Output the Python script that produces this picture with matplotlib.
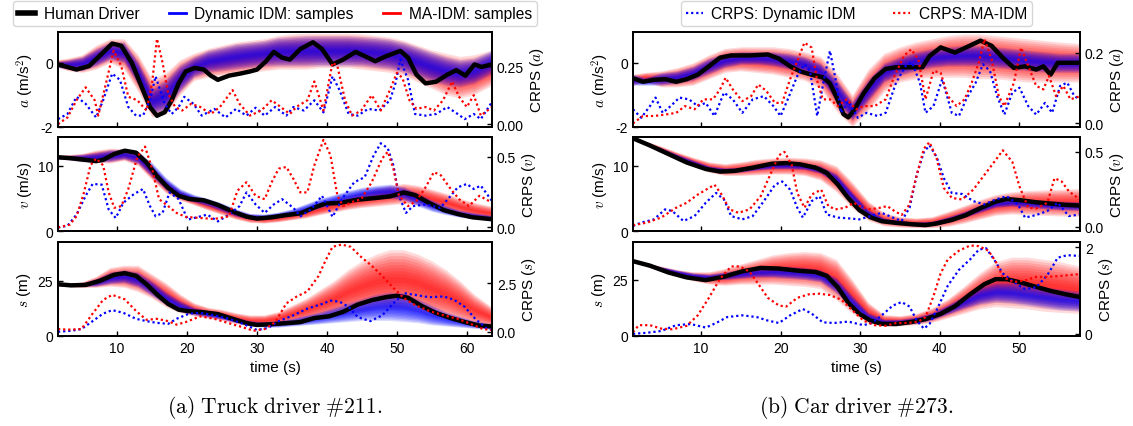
import numpy as np
import matplotlib.pyplot as plt
from matplotlib.lines import Line2D

plt.rcParams['font.family'] = ['Liberation Sans', 'DejaVu Sans']
plt.rcParams['mathtext.fontset'] = 'cm'
plt.rcParams['axes.unicode_minus'] = False

# ---------------- Truck driver #211 ----------------
# human driver (time, value)
TRUCK_A_HUMAN = [(1.55, -0.05), (4.2, -0.21), (6.0, -0.1), (8.0, 0.32), (9.3, 0.6), (10.6, 0.53), (12.1, 0.0),
                 (13.7, -0.85), (14.7, -1.38), (15.7, -1.65), (16.8, -1.54), (17.8, -1.17), (18.8, -0.64),
                 (19.8, -0.27), (21.1, -0.16), (22.4, -0.21), (23.4, -0.4), (24.4, -0.53), (26.0, -0.4),
                 (27.5, -0.34), (29.0, -0.27), (30.0, -0.21), (31.3, 0.05), (32.4, 0.34), (33.6, 0.16),
                 (34.7, 0.1), (36.2, 0.43), (38.0, 0.64), (39.3, 0.43), (40.8, -0.05), (42.3, 0.1), (44.1, 0.34),
                 (45.4, 0.21), (46.9, 0.05), (48.5, 0.21), (50.5, 0.37), (51.6, 0.16), (52.8, -0.37),
                 (54.1, -0.64), (55.6, -0.59), (57.2, -0.37), (58.5, -0.23), (59.8, -0.4), (61.1, -0.05),
                 (62.1, -0.13), (63.6, -0.05)]
TRUCK_V_HUMAN = [(1.55, 11.3), (3.4, 11.15), (5.5, 10.9), (7.0, 10.7), (8.0, 10.9), (9.6, 11.8), (11.1, 12.3),
                 (12.7, 12.0), (14.2, 10.5), (15.7, 8.4), (17.3, 6.6), (18.8, 5.4), (20.3, 4.9), (22.4, 4.7),
                 (24.4, 4.0), (26.5, 3.0), (28.5, 2.2), (30.0, 1.9), (32.1, 2.1), (34.2, 2.45), (36.2, 2.7),
                 (38.2, 3.6), (39.8, 4.2), (41.8, 4.3), (44.4, 4.8), (46.9, 5.05), (49.0, 5.3), (51.0, 5.9),
                 (52.6, 5.5), (54.6, 4.3), (56.7, 3.2), (58.7, 2.6), (60.8, 2.1), (63.6, 1.8)]
TRUCK_S_HUMAN = [(1.55, 23.4), (3.4, 22.9), (5.5, 23.1), (7.5, 24.9), (9.6, 27.7), (11.1, 28.4), (12.7, 27.2),
                 (14.2, 23.4), (15.7, 18.8), (17.3, 14.5), (18.8, 11.9), (20.3, 11.2), (22.4, 10.7), (24.4, 9.9),
                 (26.5, 7.8), (28.5, 5.8), (30.0, 5.0), (32.1, 5.35), (34.2, 5.8), (36.2, 6.3), (38.2, 8.1),
                 (40.3, 8.9), (42.3, 10.9), (44.4, 14.2), (46.4, 16.2), (48.5, 17.6), (50.0, 18.2), (51.6, 17.3),
                 (53.6, 13.5), (55.6, 10.4), (57.7, 8.1), (59.7, 6.3), (61.8, 4.7), (63.6, 4.3)]

# CRPS (time, value)
TRUCK_A_CRPS_DIDM = [(1.55, 0.022), (2.9, 0.044), (4.2, 0.118), (5.5, 0.088), (7.0, 0.029), (8.0, 0.103),
                     (9.3, 0.218), (10.4, 0.191), (11.6, 0.074), (12.7, 0.037), (13.7, 0.037), (14.7, 0.103),
                     (15.5, 0.206), (16.8, 0.088), (17.8, 0.044), (18.8, 0.074), (19.6, 0.118), (20.9, 0.088),
                     (22.1, 0.037), (23.9, 0.066), (25.5, 0.029), (27.0, 0.066), (28.5, 0.037), (29.8, 0.071),
                     (31.1, 0.037), (32.6, 0.074), (34.2, 0.037), (35.2, 0.074), (36.7, 0.059), (38.2, 0.103),
                     (39.5, 0.051), (40.8, 0.206), (41.8, 0.147), (43.1, 0.044), (44.4, 0.037), (45.9, 0.066),
                     (47.5, 0.059), (49.0, 0.103), (49.8, 0.176), (50.5, 0.279), (51.6, 0.191), (52.6, 0.044),
                     (54.1, 0.037), (55.6, 0.044), (57.2, 0.074), (58.7, 0.044), (59.7, 0.022), (61.0, 0.044),
                     (62.0, 0.022), (63.6, 0.096)]
TRUCK_A_CRPS_MAIDM = [(1.55, 0.0), (2.9, 0.029), (4.2, 0.103), (5.5, 0.159), (6.8, 0.103), (7.3, 0.037),
                      (8.3, 0.162), (9.5, 0.316), (10.6, 0.25), (11.6, 0.118), (12.9, 0.103), (14.2, 0.059),
                      (15.0, 0.176), (15.7, 0.368), (16.5, 0.265), (17.3, 0.132), (18.3, 0.074), (19.3, 0.059),
                      (20.6, 0.088), (21.9, 0.074), (23.4, 0.044), (24.7, 0.074), (26.5, 0.147), (27.5, 0.088),
                      (29.0, 0.037), (30.6, 0.059), (32.1, 0.103), (33.4, 0.074), (34.7, 0.044), (35.7, 0.076),
                      (37.2, 0.103), (38.2, 0.184), (39.5, 0.059), (40.8, 0.265), (41.5, 0.25), (42.6, 0.103),
                      (43.6, 0.037), (44.9, 0.059), (46.4, 0.125), (47.7, 0.059), (49.0, 0.147), (50.0, 0.221),
                      (50.8, 0.199), (51.8, 0.103), (52.8, 0.066), (54.1, 0.074), (55.3, 0.059), (56.6, 0.103),
                      (57.9, 0.184), (58.9, 0.118), (60.0, 0.074), (61.0, 0.125), (62.0, 0.037), (63.6, 0.074)]
TRUCK_V_CRPS_DIDM = [(1.55, 0.0), (2.9, 0.012), (4.2, 0.091), (5.5, 0.224), (6.5, 0.308), (7.8, 0.303),
                     (8.8, 0.127), (9.8, 0.067), (10.9, 0.175), (12.4, 0.236), (13.7, 0.272), (14.7, 0.151),
                     (15.5, 0.079), (16.5, 0.103), (17.5, 0.248), (18.8, 0.2), (20.1, 0.055), (21.4, 0.072),
                     (22.9, 0.091), (24.4, 0.043), (26.0, 0.091), (27.5, 0.151), (28.5, 0.248), (29.8, 0.163),
                     (31.1, 0.103), (32.4, 0.163), (33.6, 0.2), (35.2, 0.139), (36.2, 0.079), (37.7, 0.127),
                     (39.3, 0.224), (40.8, 0.075), (42.3, 0.212), (43.9, 0.32), (45.4, 0.356), (46.7, 0.512),
                     (47.7, 0.596), (48.7, 0.56), (49.5, 0.44), (50.3, 0.224), (51.3, 0.103), (52.3, 0.151),
                     (54.1, 0.163), (56.2, 0.139), (57.7, 0.224), (58.7, 0.284), (60.0, 0.308), (61.0, 0.272),
                     (62.0, 0.296), (63.6, 0.188)]
TRUCK_V_CRPS_MAIDM = [(1.55, 0.0), (3.2, 0.019), (4.2, 0.079), (5.2, 0.236), (6.2, 0.44), (7.0, 0.488),
                      (8.0, 0.44), (8.8, 0.248), (9.6, 0.139), (10.6, 0.151), (11.6, 0.272), (12.9, 0.5),
                      (14.0, 0.572), (15.0, 0.416), (16.0, 0.2), (17.3, 0.151), (18.5, 0.103), (19.8, 0.075),
                      (21.9, 0.067), (23.9, 0.06), (26.0, 0.079), (27.2, 0.26), (28.5, 0.32), (29.8, 0.224),
                      (31.1, 0.2), (32.1, 0.32), (33.1, 0.416), (34.2, 0.428), (35.2, 0.344), (36.2, 0.248),
                      (37.2, 0.248), (38.2, 0.44), (39.5, 0.62), (40.5, 0.512), (41.5, 0.224), (42.3, 0.151),
                      (43.6, 0.18), (44.9, 0.2), (46.4, 0.32), (47.9, 0.488), (48.7, 0.536), (49.5, 0.416),
                      (50.3, 0.224), (51.6, 0.151), (52.8, 0.188), (54.1, 0.284), (55.3, 0.392), (56.3, 0.368),
                      (57.7, 0.272), (58.9, 0.2), (60.3, 0.151), (61.8, 0.224), (63.6, 0.176)]
TRUCK_S_CRPS_DIDM = [(1.55, 0.0), (3.4, 0.05), (4.9, 0.14), (6.5, 0.55), (8.0, 0.94), (9.3, 1.12), (10.9, 0.98),
                     (12.7, 0.67), (14.2, 0.55), (15.7, 0.46), (17.3, 0.41), (18.5, 0.67), (20.3, 0.94),
                     (21.9, 0.98), (23.9, 0.85), (26.0, 0.67), (28.0, 0.41), (30.0, 0.09), (31.6, 0.2),
                     (33.1, 0.55), (35.2, 0.85), (37.2, 1.2), (39.3, 1.44), (40.5, 1.61), (41.8, 1.56),
                     (43.1, 1.29), (44.4, 0.76), (46.2, 0.55), (47.9, 0.85), (49.5, 1.47), (51.0, 2.0),
                     (52.6, 1.91), (54.6, 1.79), (56.7, 1.83), (58.2, 1.65), (59.7, 1.29), (61.2, 0.67),
                     (62.8, 0.18), (63.6, 0.1)]
TRUCK_S_CRPS_MAIDM = [(1.55, 0.14), (2.9, 0.11), (4.9, 0.14), (6.5, 0.94), (8.0, 1.65), (9.3, 1.91), (11.1, 1.68),
                      (12.7, 1.08), (14.2, 0.62), (15.7, 0.67), (17.3, 0.55), (18.5, 0.37), (19.8, 0.5),
                      (21.9, 0.8), (23.9, 0.67), (26.0, 0.44), (28.0, 0.23), (29.5, 0.05), (31.1, 0.14),
                      (32.6, 0.5), (34.2, 1.47), (35.7, 1.83), (37.2, 2.09), (38.8, 2.89), (39.8, 3.69),
                      (40.8, 4.4), (42.1, 4.52), (43.4, 4.4), (44.9, 3.87), (46.4, 3.42), (47.9, 2.89),
                      (49.5, 2.27), (51.0, 1.74), (52.6, 1.38), (54.6, 1.08), (56.7, 0.85), (58.7, 0.67),
                      (60.8, 0.37), (62.3, 0.14), (63.6, 0.09)]

# sample envelopes
TRUCK_BAND_T = [1.55, 3, 5, 7, 9, 11, 13, 15, 17, 19, 21, 23, 25, 27, 29, 31, 33, 35, 37, 39, 41, 43, 45, 47,
                49, 51, 53, 55, 57, 59, 61, 63.6]
TRUCK_A_DIDM_LO = [-0.15, -0.2, -0.25, -0.1, 0.1, 0.0, -0.7, -1.6, -1.5, -0.9, -0.45, -0.3, -0.25, -0.2, -0.15,
                   -0.1, -0.1, -0.1, -0.1, -0.1, -0.1, -0.1, -0.1, -0.15, -0.2, -0.3, -0.45, -0.6, -0.7, -0.75,
                   -0.65, -0.35]
TRUCK_A_DIDM_HI = [0.05, 0.1, 0.2, 0.45, 0.65, 0.65, 0.05, -0.8, -0.5, -0.05, 0.2, 0.4, 0.5, 0.6, 0.65, 0.7,
                   0.8, 0.82, 0.85, 0.85, 0.85, 0.85, 0.82, 0.8, 0.75, 0.65, 0.5, 0.35, 0.2, 0.1, 0.15, 0.4]
TRUCK_A_MAIDM_LO = [-0.15, -0.25, -0.3, -0.2, 0.0, -0.2, -0.9, -1.7, -1.6, -1.0, -0.55, -0.45, -0.4, -0.35, -0.3,
                    -0.25, -0.2, -0.2, -0.2, -0.15, -0.15, -0.15, -0.2, -0.25, -0.3, -0.4, -0.6, -0.8, -1.0, -1.1,
                    -1.0, -0.7]
TRUCK_A_MAIDM_HI = [0.1, 0.15, 0.25, 0.55, 0.75, 0.75, 0.25, -0.5, -0.3, 0.1, 0.3, 0.45, 0.55, 0.65, 0.7, 0.75,
                    0.85, 0.9, 0.92, 0.92, 0.92, 0.92, 0.9, 0.85, 0.8, 0.7, 0.55, 0.4, 0.3, 0.2, 0.25, 0.4]
TRUCK_V_DIDM_LO = [11.0, 10.9, 10.6, 10.5, 10.6, 11.0, 10.3, 8.2, 6.2, 5.0, 4.4, 3.8, 3.0, 2.2, 1.8, 1.8, 2.0,
                   2.3, 2.8, 3.5, 4.0, 4.4, 4.8, 5.0, 5.0, 4.7, 3.8, 3.0, 2.5, 2.1, 1.9, 1.7]
TRUCK_V_DIDM_HI = [11.6, 11.6, 11.8, 12.1, 12.5, 12.5, 12.2, 10.5, 8.2, 6.5, 5.6, 5.0, 4.3, 3.4, 2.7, 2.6, 2.9,
                   3.4, 4.2, 5.0, 5.6, 6.2, 6.7, 7.0, 7.2, 6.8, 5.8, 4.8, 3.9, 3.2, 2.8, 2.4]
TRUCK_V_MAIDM_LO = [11.0, 10.9, 10.6, 10.5, 10.4, 10.8, 10.0, 7.8, 5.8, 4.7, 4.0, 3.2, 2.5, 1.8, 1.3, 1.2, 1.4,
                    1.7, 2.0, 2.5, 2.9, 3.3, 3.6, 3.8, 4.0, 4.2, 4.0, 3.5, 3.0, 2.5, 2.0, 1.6]
TRUCK_V_MAIDM_HI = [11.6, 11.7, 11.9, 12.4, 12.7, 12.6, 12.3, 10.0, 7.8, 6.2, 5.3, 4.6, 4.0, 3.2, 2.6, 2.4, 2.6,
                    3.0, 3.6, 4.3, 4.9, 5.4, 6.0, 6.6, 7.0, 7.3, 7.0, 6.4, 5.8, 5.0, 4.4, 3.8]
TRUCK_S_DIDM_LO = [22.8, 22.5, 22.3, 22.5, 23.5, 24, 22, 18, 14, 11, 9.5, 8.5, 7.5, 6, 4.5, 4, 4, 4.5, 5, 5.5, 6,
                   6.5, 7, 7, 7, 6.5, 6, 5, 4.5, 4, 3.5, 3]
TRUCK_S_DIDM_HI = [23.8, 23.5, 24, 26, 29, 30, 29, 25, 20, 16, 13, 11.5, 10, 8.5, 7, 6.5, 7, 8, 9.5, 11, 13, 15,
                   17, 19, 20, 19.5, 17, 14, 11, 9, 7, 5.5]
TRUCK_S_MAIDM_LO = [22.5, 22.3, 22, 22, 22.5, 22, 20, 17, 13, 10.5, 9, 8, 7, 5.5, 4.5, 4.5, 5, 6, 7, 8, 9, 10, 11,
                    12, 12, 12, 11, 9, 8, 6.5, 5, 4]
TRUCK_S_MAIDM_HI = [24, 23.8, 24.5, 27, 31, 32, 32, 28, 24, 19, 15, 13, 12, 10.5, 9.5, 9.5, 11, 14, 17, 21, 25,
                    30, 34, 37, 39, 39, 37, 34, 30, 25, 19, 13]

# ---------------- Car driver #273 ----------------
CAR_A_HUMAN = [(1.47, -0.48), (2.7, -0.59), (4.1, -0.53), (5.5, -0.51), (6.9, -0.59), (8.2, -0.51), (9.6, -0.37),
               (11.0, -0.11), (12.4, 0.16), (13.8, 0.23), (16.1, 0.23), (18.4, 0.26), (19.8, 0.13), (21.2, -0.11),
               (22.5, -0.27), (23.9, -0.37), (25.3, -0.45), (26.2, -0.64), (27.2, -1.17), (27.9, -1.6),
               (28.5, -1.7), (29.2, -1.49), (30.4, -0.96), (31.8, -0.48), (33.2, -0.19), (34.5, -0.14),
               (36.4, -0.14), (37.8, -0.14), (38.7, 0.21), (40.1, 0.48), (41.9, 0.32), (43.3, 0.48),
               (45.1, 0.69), (46.5, 0.53), (47.9, 0.16), (49.3, -0.16), (50.7, -0.11), (52.1, -0.21),
               (53.0, -0.11), (53.9, -0.37), (54.8, 0.0), (56.2, 0.0), (57.6, 0.0)]
CAR_V_HUMAN = [(1.47, 14.2), (3.6, 13.1), (5.9, 11.8), (8.2, 10.5), (10.6, 9.5), (12.4, 9.1), (14.2, 9.2),
               (16.5, 9.7), (18.9, 10.3), (20.7, 10.4), (22.5, 10.2), (24.4, 9.7), (25.8, 8.9), (27.2, 7.1),
               (28.5, 5.05), (29.9, 3.2), (31.3, 2.1), (32.7, 1.5), (34.5, 1.25), (36.4, 1.04), (38.2, 0.9),
               (39.6, 1.15), (41.5, 1.7), (43.3, 2.45), (45.1, 3.5), (47.0, 4.5), (48.4, 4.9), (50.2, 4.7),
               (52.1, 4.4), (53.9, 4.2), (55.8, 4.0), (57.6, 3.9)]
CAR_S_HUMAN = [(1.47, 33.2), (3.6, 31.2), (5.9, 28.2), (8.2, 26.0), (10.6, 24.8), (12.9, 26.3), (15.2, 28.7),
               (17.5, 30.2), (19.8, 29.9), (22.1, 29.0), (24.4, 28.4), (25.8, 26.7), (27.2, 21.5), (28.5, 14.7),
               (29.9, 9.8), (31.3, 6.8), (32.7, 5.4), (34.5, 5.3), (36.4, 6.2), (38.2, 7.5), (40.1, 9.8),
               (41.9, 13.2), (43.8, 18.5), (45.6, 23.0), (47.0, 25.2), (48.4, 25.2), (50.2, 23.7), (52.1, 21.8),
               (53.9, 20.0), (55.8, 18.5), (57.6, 17.3)]

CAR_A_CRPS_DIDM = [(1.47, 0.04), (2.5, 0.016), (3.6, 0.049), (4.3, 0.073), (5.2, 0.03), (6.2, 0.049), (7.3, 0.073),
                   (8.5, 0.068), (9.6, 0.049), (10.6, 0.058), (11.7, 0.021), (12.9, 0.087), (14.0, 0.068),
                   (15.2, 0.03), (16.5, 0.068), (17.9, 0.077), (19.1, 0.049), (20.0, 0.021), (20.9, 0.068),
                   (22.1, 0.134), (23.0, 0.167), (23.7, 0.148), (24.6, 0.021), (25.3, 0.106), (26.2, 0.205),
                   (26.9, 0.125), (27.6, 0.03), (28.5, 0.063), (29.7, 0.016), (30.8, 0.03), (32.2, 0.021),
                   (33.2, 0.03), (34.5, 0.115), (35.7, 0.162), (36.5, 0.172), (37.5, 0.115), (38.2, 0.03),
                   (39.2, 0.049), (40.3, 0.125), (41.5, 0.03), (42.4, 0.021), (43.3, 0.068), (44.5, 0.115),
                   (45.4, 0.167), (46.3, 0.148), (47.2, 0.077), (48.1, 0.025), (49.1, 0.087), (50.0, 0.101),
                   (51.1, 0.049), (52.1, 0.025), (53.2, 0.058), (54.1, 0.03), (55.1, 0.106), (56.0, 0.115),
                   (56.9, 0.077), (57.6, 0.068)]
CAR_A_CRPS_MAIDM = [(1.47, 0.0), (2.7, 0.021), (4.1, 0.021), (5.5, 0.025), (6.9, 0.03), (8.0, 0.049), (9.2, 0.04),
                    (10.3, 0.068), (11.5, 0.068), (12.4, 0.096), (13.1, 0.129), (14.0, 0.096), (15.2, 0.063),
                    (16.3, 0.077), (17.2, 0.11), (18.2, 0.092), (19.3, 0.058), (20.2, 0.058), (21.2, 0.125),
                    (22.1, 0.176), (23.0, 0.228), (23.9, 0.214), (24.6, 0.12), (25.3, 0.068), (26.2, 0.068),
                    (27.2, 0.049), (28.3, 0.068), (29.5, 0.04), (30.4, 0.049), (31.8, 0.049), (33.2, 0.068),
                    (34.3, 0.134), (35.5, 0.191), (36.4, 0.209), (37.3, 0.181), (38.2, 0.068), (39.2, 0.148),
                    (40.1, 0.143), (41.0, 0.077), (42.1, 0.049), (43.1, 0.068), (44.0, 0.115), (44.9, 0.172),
                    (45.6, 0.238), (46.5, 0.181), (47.4, 0.077), (48.1, 0.049), (49.3, 0.115), (50.2, 0.214),
                    (51.1, 0.162), (52.1, 0.106), (53.0, 0.096), (53.7, 0.134), (54.6, 0.077), (55.5, 0.106),
                    (56.4, 0.068), (57.6, 0.077)]
CAR_V_CRPS_DIDM = [(1.47, 0.004), (2.5, 0.026), (4.1, 0.048), (5.5, 0.115), (6.4, 0.104), (7.8, 0.037),
                   (9.2, 0.07), (10.6, 0.159), (11.9, 0.225), (12.9, 0.181), (13.8, 0.07), (15.2, 0.048),
                   (16.5, 0.07), (17.9, 0.17), (19.3, 0.28), (20.2, 0.302), (21.2, 0.247), (22.1, 0.126),
                   (22.8, 0.06), (23.9, 0.17), (24.9, 0.203), (25.8, 0.081), (27.2, 0.06), (28.5, 0.055),
                   (29.9, 0.048), (31.3, 0.07), (32.7, 0.092), (34.1, 0.06), (35.2, 0.037), (36.2, 0.126),
                   (37.1, 0.346), (38.0, 0.5), (38.7, 0.544), (39.6, 0.467), (40.5, 0.324), (41.5, 0.225),
                   (42.8, 0.218), (44.2, 0.17), (45.6, 0.148), (47.0, 0.181), (48.4, 0.203), (49.8, 0.148),
                   (50.7, 0.06), (52.1, 0.077), (53.5, 0.104), (54.8, 0.159), (56.2, 0.07), (57.6, 0.081)]
CAR_V_CRPS_MAIDM = [(1.47, 0.009), (3.2, 0.026), (5.0, 0.06), (6.9, 0.126), (8.2, 0.159), (9.6, 0.214),
                    (11.0, 0.258), (11.7, 0.28), (12.6, 0.214), (13.6, 0.115), (14.7, 0.092), (16.1, 0.115),
                    (17.5, 0.203), (18.6, 0.335), (19.8, 0.478), (20.5, 0.5), (21.4, 0.412), (22.1, 0.225),
                    (23.0, 0.126), (23.9, 0.214), (25.1, 0.247), (26.0, 0.137), (26.9, 0.115), (28.1, 0.126),
                    (29.2, 0.159), (30.4, 0.126), (31.3, 0.115), (32.5, 0.126), (33.4, 0.137), (34.3, 0.104),
                    (35.2, 0.077), (36.2, 0.148), (37.1, 0.346), (38.0, 0.522), (38.7, 0.566), (39.6, 0.456),
                    (40.5, 0.258), (41.5, 0.192), (42.8, 0.181), (44.2, 0.247), (45.6, 0.346), (47.0, 0.445),
                    (47.9, 0.511), (49.1, 0.434), (50.0, 0.269), (51.1, 0.126), (52.1, 0.121), (53.5, 0.159),
                    (54.4, 0.324), (55.3, 0.302), (56.2, 0.236), (57.6, 0.181)]
CAR_S_CRPS_DIDM = [(1.47, 0.0), (3.2, 0.024), (5.0, 0.065), (6.9, 0.2), (8.7, 0.226), (10.6, 0.145),
                   (11.9, 0.25), (13.3, 0.387), (15.2, 0.427), (17.0, 0.387), (18.4, 0.306), (19.8, 0.25),
                   (21.2, 0.427), (22.8, 0.573), (23.9, 0.468), (25.3, 0.266), (26.7, 0.25), (28.5, 0.282),
                   (30.4, 0.2), (31.5, 0.25), (32.7, 0.427), (34.1, 0.653), (35.2, 0.734), (36.2, 0.629),
                   (37.1, 0.306), (38.0, 0.121), (38.7, 0.226), (39.6, 0.548), (41.0, 1.113), (42.4, 1.476),
                   (43.8, 1.718), (44.9, 1.944), (45.8, 1.976), (46.8, 1.718), (47.9, 1.395), (49.3, 1.194),
                   (50.7, 1.032), (52.1, 1.073), (53.5, 1.355), (54.8, 1.758), (56.0, 1.815), (57.6, 1.798)]
CAR_S_CRPS_MAIDM = [(1.47, 0.04), (2.2, 0.2), (3.6, 0.2), (5.0, 0.121), (6.4, 0.105), (8.2, 0.185), (9.6, 0.427),
                    (11.0, 0.831), (12.4, 1.274), (13.8, 1.556), (14.9, 1.556), (16.1, 1.435), (17.2, 1.153),
                    (18.4, 0.831), (19.8, 0.653), (20.7, 0.629), (22.1, 0.831), (23.5, 0.911), (24.9, 0.927),
                    (26.2, 0.895), (27.6, 0.79), (29.0, 0.548), (30.4, 0.306), (31.8, 0.2), (33.2, 0.185),
                    (34.5, 0.25), (35.9, 0.25), (37.3, 0.282), (38.2, 0.387), (39.2, 0.871), (40.1, 1.395),
                    (41.0, 1.718), (42.4, 1.919), (43.8, 2.04), (44.9, 2.024), (46.1, 1.919), (47.0, 1.677),
                    (47.9, 1.315), (49.3, 1.194), (50.7, 1.234), (52.1, 1.315), (53.5, 1.315), (54.8, 1.331),
                    (56.2, 1.355), (57.6, 1.379)]

CAR_BAND_T = [1.47, 3, 5, 7, 9, 11, 13, 15, 17, 19, 21, 23, 25, 27, 29, 31, 33, 35, 37, 39, 41, 43, 45, 47, 49,
              51, 53, 55, 57.6]
CAR_A_DIDM_LO = [-0.7, -0.7, -0.7, -0.65, -0.55, -0.35, -0.15, -0.05, -0.05, -0.1, -0.2, -0.3, -0.55, -1.2, -1.8,
                 -1.2, -0.6, -0.4, -0.25, -0.15, -0.1, -0.1, -0.1, -0.15, -0.2, -0.25, -0.3, -0.3, -0.3]
CAR_A_DIDM_HI = [-0.35, -0.45, -0.3, -0.25, -0.1, 0.15, 0.3, 0.35, 0.35, 0.35, 0.3, 0.2, 0.0, -0.5, -1.2, -0.5,
                 0.0, 0.2, 0.35, 0.45, 0.5, 0.55, 0.55, 0.5, 0.45, 0.4, 0.35, 0.3, 0.3]
CAR_A_MAIDM_LO = [-0.7, -0.6, -0.75, -0.75, -0.7, -0.5, -0.3, -0.25, -0.3, -0.35, -0.45, -0.55, -0.8, -1.5, -2.0,
                  -1.5, -0.9, -0.6, -0.5, -0.45, -0.45, -0.45, -0.5, -0.5, -0.55, -0.6, -0.6, -0.6, -0.6]
CAR_A_MAIDM_HI = [-0.35, -0.3, -0.25, -0.15, 0.0, 0.25, 0.45, 0.5, 0.5, 0.5, 0.45, 0.35, 0.2, -0.3, -1.0, -0.2,
                  0.3, 0.5, 0.65, 0.75, 0.85, 0.9, 0.9, 0.85, 0.8, 0.75, 0.7, 0.65, 0.6]
CAR_V_DIDM_LO = [14.0, 13.2, 12.0, 11.0, 10.0, 9.2, 8.9, 9.0, 9.3, 9.5, 9.5, 9.4, 8.8, 7.2, 4.5, 2.2, 1.3, 1.0,
                 0.9, 0.9, 1.3, 2.0, 2.8, 3.6, 3.8, 3.6, 3.4, 3.2, 3.1]
CAR_V_DIDM_HI = [14.3, 13.6, 12.8, 11.8, 10.9, 10.0, 9.7, 9.8, 10.2, 10.5, 10.6, 10.4, 10.0, 8.8, 6.0, 3.3, 2.0,
                 1.6, 1.4, 1.5, 2.2, 3.0, 4.0, 4.8, 5.0, 4.9, 4.7, 4.6, 4.5]
CAR_V_MAIDM_LO = [14.0, 13.2, 12.2, 11.0, 10.0, 9.0, 8.5, 8.5, 8.6, 8.7, 8.7, 8.5, 7.8, 6.0, 3.5, 1.6, 0.8, 0.6,
                  0.5, 0.5, 0.7, 1.2, 1.8, 2.4, 2.6, 2.5, 2.4, 2.3, 2.2]
CAR_V_MAIDM_HI = [14.3, 13.8, 13.0, 12.1, 11.3, 10.6, 10.3, 10.6, 11.0, 11.2, 11.3, 11.2, 10.9, 10.0, 7.5, 4.6,
                  2.8, 2.2, 2.0, 2.2, 3.0, 3.9, 4.8, 5.6, 6.0, 6.2, 6.3, 6.4, 6.5]
CAR_S_DIDM_LO = [32.8, 31.3, 29.3, 27.5, 25.8, 25, 25, 25.5, 26, 26, 25.5, 25, 24, 19, 12, 6.5, 5, 5, 5.5, 7, 9.5,
                 12, 14, 15, 14.5, 13.5, 12.5, 11.5, 11]
CAR_S_DIDM_HI = [33.6, 32.4, 30.8, 29.3, 28, 27.5, 28.5, 29.5, 30.5, 31, 31, 30.5, 29.5, 26, 18, 10.5, 7.5, 7.5,
                 8.5, 10.5, 14, 18, 22, 24, 24, 23, 22, 21, 20]
CAR_S_MAIDM_LO = [32.8, 31, 28.8, 26.5, 24.5, 23, 22.5, 23, 23, 23, 22.5, 22, 21, 16, 10, 5.5, 4.5, 4.5, 5, 6, 8,
                  10, 12, 13, 12.5, 12, 11, 10.5, 10]
CAR_S_MAIDM_HI = [33.6, 32.5, 31, 29.5, 28.5, 28.5, 30, 32, 34, 36, 37, 37.5, 37, 34, 25, 15, 9.5, 9, 10, 12.5,
                  16.5, 22, 28, 33, 35, 35, 34, 33, 31]

# tick labels
TRUCK_XTICKS = [10, 20, 30, 40, 50, 60]
CAR_XTICKS = [10, 20, 30, 40, 50]
A_TICKS, A_LABELS = [-2, 0], ['-2', '0']
V_TICKS, V_LABELS = [0, 10], ['0', '10']
S_TICKS, S_LABELS = [0, 25], ['0', '25']

BLUE, RED = '#0000ff', '#ff0000'
W, H = 1133, 427

fig = plt.figure(figsize=(W / 100, H / 100), dpi=100)


def rect(x0, x1, y0, y1):
    return [x0 / W, 1 - y1 / H, (x1 - x0) / W, (y1 - y0) / H]


def band(ax, t, lo, hi, color, n=10, alpha=0.14):
    t, lo, hi = np.asarray(t), np.asarray(lo), np.asarray(hi)
    mid = (lo + hi) / 2
    for k in range(1, n + 1):
        f = k / n
        ax.fill_between(t, mid - f * (mid - lo), mid + f * (hi - mid), color=color, alpha=alpha, lw=0, zorder=1)


def style(ax):
    for sp in ax.spines.values():
        sp.set_linewidth(1.3)
    ax.tick_params(direction='in', length=3.5, width=1, labelsize=10, top=False)


def panel(box, xlim, xticks, ylim, yticks, ylabels, ylabel, human, bt, dlo, dhi, mlo, mhi,
          crps_d, crps_m, clim, cticks, clabels, clabel, bottom):
    ax = fig.add_axes(box)
    band(ax, bt, mlo, mhi, RED)
    band(ax, bt, dlo, dhi, BLUE)
    h = np.array(human)
    ax.plot(h[:, 0], h[:, 1], color='black', lw=3.2, zorder=3, solid_capstyle='round', solid_joinstyle='round')
    ax.set_xlim(*xlim)
    ax.set_ylim(*ylim)
    ax.set_xticks(xticks)
    ax.set_yticks(yticks)
    ax.set_yticklabels(ylabels)
    ax.set_ylabel(ylabel, fontsize=11, labelpad=3)
    if bottom:
        ax.set_xlabel('time (s)', fontsize=11, labelpad=4)
    else:
        ax.set_xticklabels([])
    style(ax)
    ax2 = ax.twinx()
    cd, cm = np.array(crps_d), np.array(crps_m)
    ax2.plot(cd[:, 0], cd[:, 1], color=BLUE, lw=1.6, ls=(0, (1, 1.3)))
    ax2.plot(cm[:, 0], cm[:, 1], color=RED, lw=1.6, ls=(0, (1, 1.3)))
    ax2.set_ylim(*clim)
    ax2.set_yticks(cticks)
    ax2.set_yticklabels(clabels)
    ax2.set_ylabel(clabel, fontsize=11, labelpad=3)
    style(ax2)
    return ax


rows = [(33, 128), (138, 232), (243, 337)]
tx, cx = (58, 492), (633, 1080)
txl, cxl = (1.55, 63.6), (1.47, 57.6)

panel(rect(*tx, *rows[0]), txl, TRUCK_XTICKS, (-2, 0.96), A_TICKS, A_LABELS, r'$a$ (m/s$^2$)', TRUCK_A_HUMAN,
      TRUCK_BAND_T, TRUCK_A_DIDM_LO, TRUCK_A_DIDM_HI, TRUCK_A_MAIDM_LO, TRUCK_A_MAIDM_HI,
      TRUCK_A_CRPS_DIDM, TRUCK_A_CRPS_MAIDM, (-0.012, 0.397), [0, 0.25], ['0.00', '0.25'], r'CRPS ($a$)', False)
panel(rect(*tx, *rows[1]), txl, TRUCK_XTICKS, (0, 14.4), V_TICKS, V_LABELS, r'$v$ (m/s)', TRUCK_V_HUMAN,
      TRUCK_BAND_T, TRUCK_V_DIDM_LO, TRUCK_V_DIDM_HI, TRUCK_V_MAIDM_LO, TRUCK_V_MAIDM_HI,
      TRUCK_V_CRPS_DIDM, TRUCK_V_CRPS_MAIDM, (-0.025, 0.64), [0, 0.5], ['0.0', '0.5'], r'CRPS ($v$)', False)
panel(rect(*tx, *rows[2]), txl, TRUCK_XTICKS, (0, 42.5), S_TICKS, S_LABELS, r'$s$ (m)', TRUCK_S_HUMAN,
      TRUCK_BAND_T, TRUCK_S_DIDM_LO, TRUCK_S_DIDM_HI, TRUCK_S_MAIDM_LO, TRUCK_S_MAIDM_HI,
      TRUCK_S_CRPS_DIDM, TRUCK_S_CRPS_MAIDM, (-0.22, 4.65), [0, 2.5], ['0.0', '2.5'], r'CRPS ($s$)', True)

panel(rect(*cx, *rows[0]), cxl, CAR_XTICKS, (-2, 0.96), A_TICKS, A_LABELS, r'$a$ (m/s$^2$)', CAR_A_HUMAN,
      CAR_BAND_T, CAR_A_DIDM_LO, CAR_A_DIDM_HI, CAR_A_MAIDM_LO, CAR_A_MAIDM_HI,
      CAR_A_CRPS_DIDM, CAR_A_CRPS_MAIDM, (-0.01, 0.258), [0, 0.2], ['0.0', '0.2'], r'CRPS ($a$)', False)
panel(rect(*cx, *rows[1]), cxl, CAR_XTICKS, (0, 14.4), V_TICKS, V_LABELS, r'$v$ (m/s)', CAR_V_HUMAN,
      CAR_BAND_T, CAR_V_DIDM_LO, CAR_V_DIDM_HI, CAR_V_MAIDM_LO, CAR_V_MAIDM_HI,
      CAR_V_CRPS_DIDM, CAR_V_CRPS_MAIDM, (-0.03, 0.60), [0, 0.5], ['0.0', '0.5'], r'CRPS ($v$)', False)
panel(rect(*cx, *rows[2]), cxl, CAR_XTICKS, (0, 41.7), S_TICKS, S_LABELS, r'$s$ (m)', CAR_S_HUMAN,
      CAR_BAND_T, CAR_S_DIDM_LO, CAR_S_DIDM_HI, CAR_S_MAIDM_LO, CAR_S_MAIDM_HI,
      CAR_S_CRPS_DIDM, CAR_S_CRPS_MAIDM, (-0.05, 2.12), [0, 2], ['0', '2'], r'CRPS ($s$)', True)

# legends
h1 = [Line2D([], [], color='black', lw=4), Line2D([], [], color=BLUE, lw=2), Line2D([], [], color=RED, lw=2)]
fig.legend(h1, ['Human Driver', 'Dynamic IDM: samples', 'MA-IDM: samples'], loc='upper center',
           bbox_to_anchor=(sum(tx) / 2 / W, 1.0), ncol=3, fontsize=11.2, handlelength=1.1, columnspacing=1.9,
           borderpad=0.3, borderaxespad=0.15, handletextpad=0.55)
h2 = [Line2D([], [], color=BLUE, lw=1.6, ls=(0, (1, 1.3))), Line2D([], [], color=RED, lw=1.6, ls=(0, (1, 1.3)))]
fig.legend(h2, ['CRPS: Dynamic IDM', 'CRPS: MA-IDM'], loc='upper center',
           bbox_to_anchor=(sum(cx) / 2 / W, 1.0), ncol=2, fontsize=11.2, handlelength=1.1, columnspacing=2.4,
           borderpad=0.3, borderaxespad=0.15, handletextpad=0.55)

# captions
fig.text(sum(tx) / 2 / W, 1 - 408 / H, r'$\mathrm{(a)\ Truck\ driver\ \#211.}$', ha='center', va='center',
         fontsize=15.5)
fig.text(sum(cx) / 2 / W, 1 - 408 / H, r'$\mathrm{(b)\ Car\ driver\ \#273.}$', ha='center', va='center',
         fontsize=15.5)

fig.savefig('out.png', dpi=100)
